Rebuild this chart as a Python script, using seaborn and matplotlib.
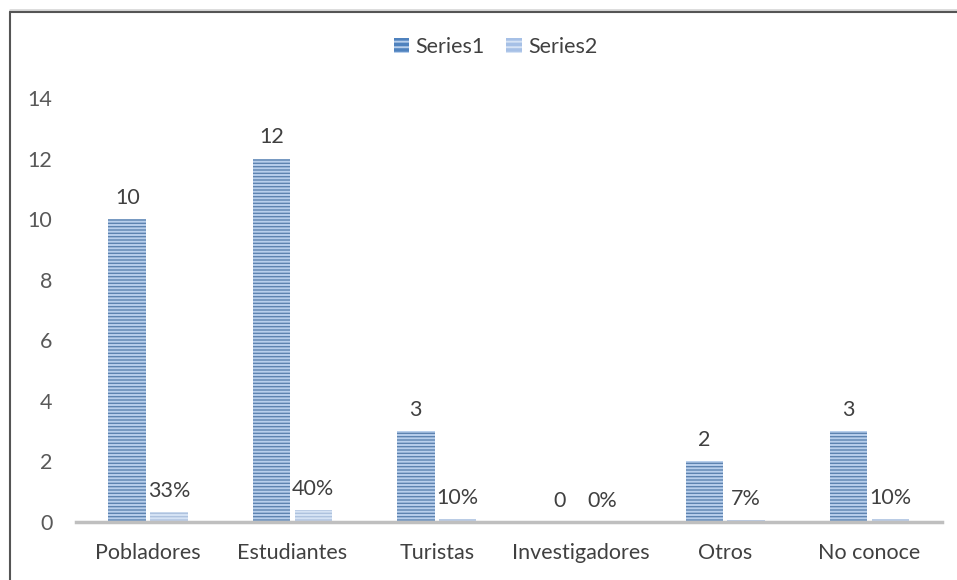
import matplotlib
matplotlib.use("Agg")
import matplotlib.pyplot as plt
from matplotlib.lines import Line2D
import seaborn as sns
import pandas as pd

categories = ["Pobladores", "Estudiantes", "Turistas", "Investigadores", "Otros", "No conoce"]
series1 = [10, 12, 3, 0, 2, 3]
series2 = [0.33, 0.40, 0.10, 0.0, 0.07, 0.10]
series_names = ["Series1", "Series2"]

df = pd.DataFrame({
    "categoria": categories * 2,
    "serie": [series_names[0]] * len(categories) + [series_names[1]] * len(categories),
    "valor": series1 + series2,
})

sns.set_style("white")
plt.rcParams["font.family"] = ["Lato", "DejaVu Sans"]
plt.rcParams["hatch.linewidth"] = 1.4

fig = plt.figure(figsize=(9.57, 5.8), dpi=100)
ax = fig.add_axes([0.0794, 0.1, 0.9046, 0.731])

face = ["#4f82be", "#a6c0e6"]
stripe = ["#b8cfec", "#d6e3f5"]
fs = 15.5

sns.barplot(data=df, x="categoria", y="valor", hue="serie", palette=face,
            width=0.58, gap=0.1, errorbar=None, ax=ax, legend=False)

for cont, ec in zip(ax.containers, stripe):
    for p in cont:
        p.set_hatch("-----")
        p.set_edgecolor(ec)
        p.set_linewidth(0)

# data labels
ax.bar_label(ax.containers[0], labels=[str(v) for v in series1],
             padding=8, fontsize=fs, color="#404040")
ax.bar_label(ax.containers[1], labels=[f"{v:.0%}" for v in series2],
             padding=8, fontsize=fs, color="#404040")

ax.set_ylim(0, 14)
ax.set_yticks(range(0, 15, 2))
ax.set_xlabel("")
ax.set_ylabel("")
ax.tick_params(axis="y", length=0, pad=17, labelsize=fs, labelcolor="#595959")
ax.tick_params(axis="x", length=0, pad=15, labelsize=fs, labelcolor="#404040")
for s in ["top", "right", "left"]:
    ax.spines[s].set_visible(False)
ax.spines["bottom"].set_color("#bfbfbf")
ax.spines["bottom"].set_linewidth(2.5)

handles = [plt.Rectangle((0, 0), 1, 1, facecolor=face[i], edgecolor=stripe[i],
                         linewidth=0, hatch="---") for i in range(2)]
fig.legend(handles, series_names, loc="center", bbox_to_anchor=(0.518, 0.919),
           ncol=2, frameon=False, fontsize=fs, handlelength=0.7, handleheight=0.7,
           handletextpad=0.3, columnspacing=1.0, labelcolor="#404040")

# outer frame like the original screenshot
fig.add_artist(Line2D([0.0105, 1.0], [0.983, 0.983], color="#d9d9d9", lw=2, transform=fig.transFigure))
fig.add_artist(Line2D([0.0105, 1.0], [0.98, 0.98], color="#555555", lw=1.5, transform=fig.transFigure))
fig.add_artist(Line2D([0.0105, 0.0105], [0.0, 0.98], color="#555555", lw=1.5, transform=fig.transFigure))

fig.savefig("out.png", dpi=100)
